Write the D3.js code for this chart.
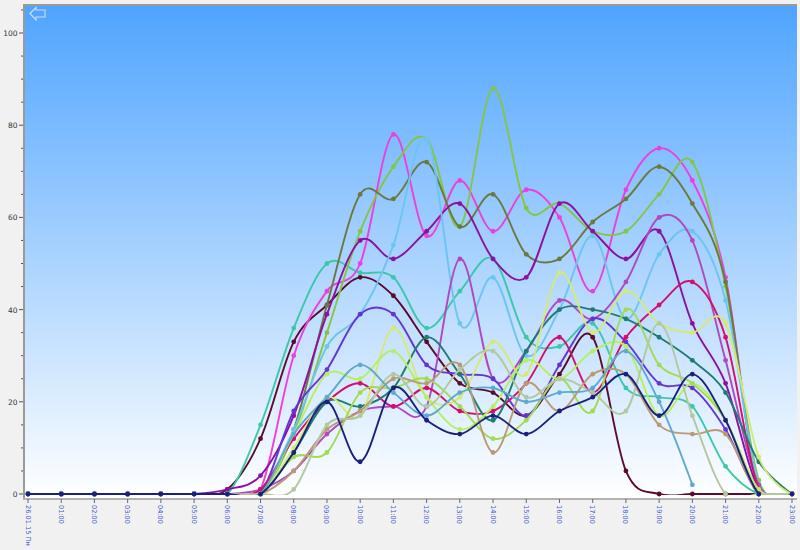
<!DOCTYPE html>
<html><head><meta charset="utf-8">
<script src="https://cdn.jsdelivr.net/npm/d3@7"></script>
<style>html,body{margin:0;padding:0;background:#f1f1f1}svg{display:block}</style>
</head><body><svg id="c" width="800" height="550"></svg>
<script>
const hours = ["26.01.15 Пн","01:00","02:00","03:00","04:00","05:00","06:00","07:00","08:00","09:00","10:00","11:00","12:00","13:00","14:00","15:00","16:00","17:00","18:00","19:00","20:00","21:00","22:00","23:00"];
const yTicks = [0,20,40,60,80,100];
const maroon   = [0,0,0,0,0,0,1,12,33,41,47,43,33,24,22,17,26,34,5,0,0,0,0,0];
const teal     = [0,0,0,0,0,0,0,15,36,50,48,47,36,44,51,34,32,37,23,21,19,6,0,0];
const magenta  = [0,0,0,0,0,0,0,1,30,44,50,78,56,68,57,66,60,44,66,75,68,47,1,0];
const lime     = [0,0,0,0,0,0,0,0,13,35,57,71,77,58,88,62,63,57,57,65,72,45,3,0];
const olive    = [0,0,0,0,0,0,0,1,14,41,65,64,72,58,65,52,51,59,64,71,63,46,0,0];
const purple   = [0,0,0,0,0,0,1,4,17,39,55,51,57,63,51,47,63,57,51,57,37,24,1,0];
const skyblue  = [0,0,0,0,0,0,0,1,14,32,39,54,77,37,47,30,40,56,38,52,57,42,2,0];
const orchid   = [0,0,0,0,0,0,0,1,5,13,18,19,19,51,25,31,42,38,46,60,55,29,2,0];
const violet   = [0,0,0,0,0,0,0,0,18,27,39,39,28,26,25,17,28,38,33,24,23,14,0,0];
const crimson  = [0,0,0,0,0,0,0,1,12,20,24,19,23,18,18,24,34,22,34,41,46,34,1,0];
const darkteal = [0,0,0,0,0,0,0,0,9,20,19,23,34,26,16,31,40,40,38,34,29,22,7,0];
const paleLime = [0,0,0,0,0,0,0,0,10,21,17,36,21,21,33,26,48,35,44,37,35,37,8,0];
const brightLm = [0,0,0,0,0,0,0,0,13,26,25,31,21,14,19,29,25,31,32,17,24,16,1,0];
const green    = [0,0,0,0,0,0,0,0,8,9,22,23,25,19,12,16,25,18,40,28,24,16,0,0];
const tan      = [0,0,0,0,0,0,0,0,5,14,18,25,24,28,9,24,18,26,26,15,13,13,0,0];
const sage     = [0,0,0,0,0,0,0,0,1,15,17,26,19,27,31,21,25,22,18,37,17,0,0,0];
const steel    = [0,0,0,0,0,0,0,0,13,21,28,22,17,22,23,20,22,23,31,20,2,null,null,null];
const navy     = [0,0,0,0,0,0,0,0,9,20,7,23,16,13,17,13,18,21,26,17,26,16,0,0];

const seriesList = [
 [maroon,"#5c0a2e"],[teal,"#3cc8a8"],[magenta,"#ea40e0"],[lime,"#82c644"],[olive,"#6b7a3c"],
 [purple,"#8c10a4"],[skyblue,"#6cc4f0"],[orchid,"#b048c4"],[violet,"#6434d4"],[crimson,"#d0106c"],
 [darkteal,"#1e7c70"],[paleLime,"#d4ea70"],[brightLm,"#b4f060"],[green,"#a0dc50"],[tan,"#ba9a74"],
 [sage,"#b4c8a0"],[steel,"#60a8d0"],[navy,"#1a2080"]
];

const svg = d3.select("#c");
const x = d3.scalePoint().domain(hours).range([28,792]);
const y = d3.scaleLinear().domain([0,100]).range([494,33]);
const plotTop = 6, plotBottom = 498, plotLeft = 25, plotRight = 797;

const defs = svg.append("defs");
const g = defs.append("linearGradient").attr("id","bg").attr("x1",0).attr("x2",0).attr("y1",0).attr("y2",1);
g.append("stop").attr("offset","0%").attr("stop-color","#4fa4ff");
g.append("stop").attr("offset","100%").attr("stop-color","#ffffff");
defs.append("clipPath").attr("id","above0").append("rect")
  .attr("x",plotLeft).attr("y",plotTop).attr("width",plotRight-plotLeft).attr("height",y(0)+1-plotTop);

svg.append("rect").attr("x",plotLeft).attr("y",plotTop).attr("width",plotRight-plotLeft).attr("height",plotBottom-plotTop).attr("fill","url(#bg)");
svg.append("line").attr("x1",plotLeft-1).attr("x2",plotRight).attr("y1",plotTop-1).attr("y2",plotTop-1).attr("stroke","#9a9a9a").attr("stroke-width",2);
svg.append("line").attr("x1",plotLeft-1).attr("x2",plotLeft-1).attr("y1",plotTop-2).attr("y2",plotBottom).attr("stroke","#9a9a9a").attr("stroke-width",2);
svg.append("line").attr("x1",plotLeft-2).attr("x2",plotRight).attr("y1",plotBottom+1).attr("y2",plotBottom+1).attr("stroke","#b4b4b4").attr("stroke-width",2);

// minor y ticks every 5
const minor = d3.range(5,106,5);
svg.append("g").selectAll("line").data(minor.filter(v=>!yTicks.includes(v))).join("line")
  .attr("x1",21).attr("x2",23).attr("y1",d=>y(d)).attr("y2",d=>y(d)).attr("stroke","#555");
svg.append("g").selectAll("line").data(yTicks).join("line")
  .attr("x1",19).attr("x2",23).attr("y1",d=>y(d)).attr("y2",d=>y(d)).attr("stroke","#555");
svg.append("g").selectAll("text").data(yTicks).join("text")
  .attr("x",17.5).attr("y",d=>y(d)+3).attr("text-anchor","end")
  .attr("font-family","DejaVu Sans").attr("font-size",7.5).attr("fill","#333").text(d=>d);

// x ticks and labels
svg.append("g").selectAll("line").data(hours).join("line")
  .attr("x1",d=>x(d)).attr("x2",d=>x(d)).attr("y1",plotBottom+1).attr("y2",plotBottom+5).attr("stroke","#666");
svg.append("g").selectAll("text").data(hours).join("text")
  .attr("transform",d=>`translate(${x(d)-2.5},505) rotate(90)`)
  .attr("font-family","DejaVu Sans").attr("font-size",6.6).attr("fill","#4058d0").text(d=>d);

// back arrow icon
svg.append("path").attr("d","M30 13.5 L36 7.5 L36 10 L45 10 L45 17 L36 17 L36 20 Z")
  .attr("fill","none").attr("stroke","#ccdcf0").attr("stroke-width",1.2);

const line = d3.line().defined(d=>d!=null).x((d,i)=>x(hours[i])).y(d=>y(d)).curve(d3.curveCatmullRom.alpha(0));
const plot = svg.append("g");
seriesList.forEach(([vals,color])=>{
  plot.append("path").attr("d",line(vals)).attr("fill","none").attr("stroke",color).attr("stroke-width",1.9).attr("clip-path","url(#above0)");
  plot.append("g").selectAll("circle").data(vals.map((v,i)=>[hours[i],v]).filter(d=>d[1]!=null)).join("circle")
    .attr("cx",d=>x(d[0])).attr("cy",d=>y(d[1])).attr("r",2.4).attr("fill",color);
});
</script></body></html>
